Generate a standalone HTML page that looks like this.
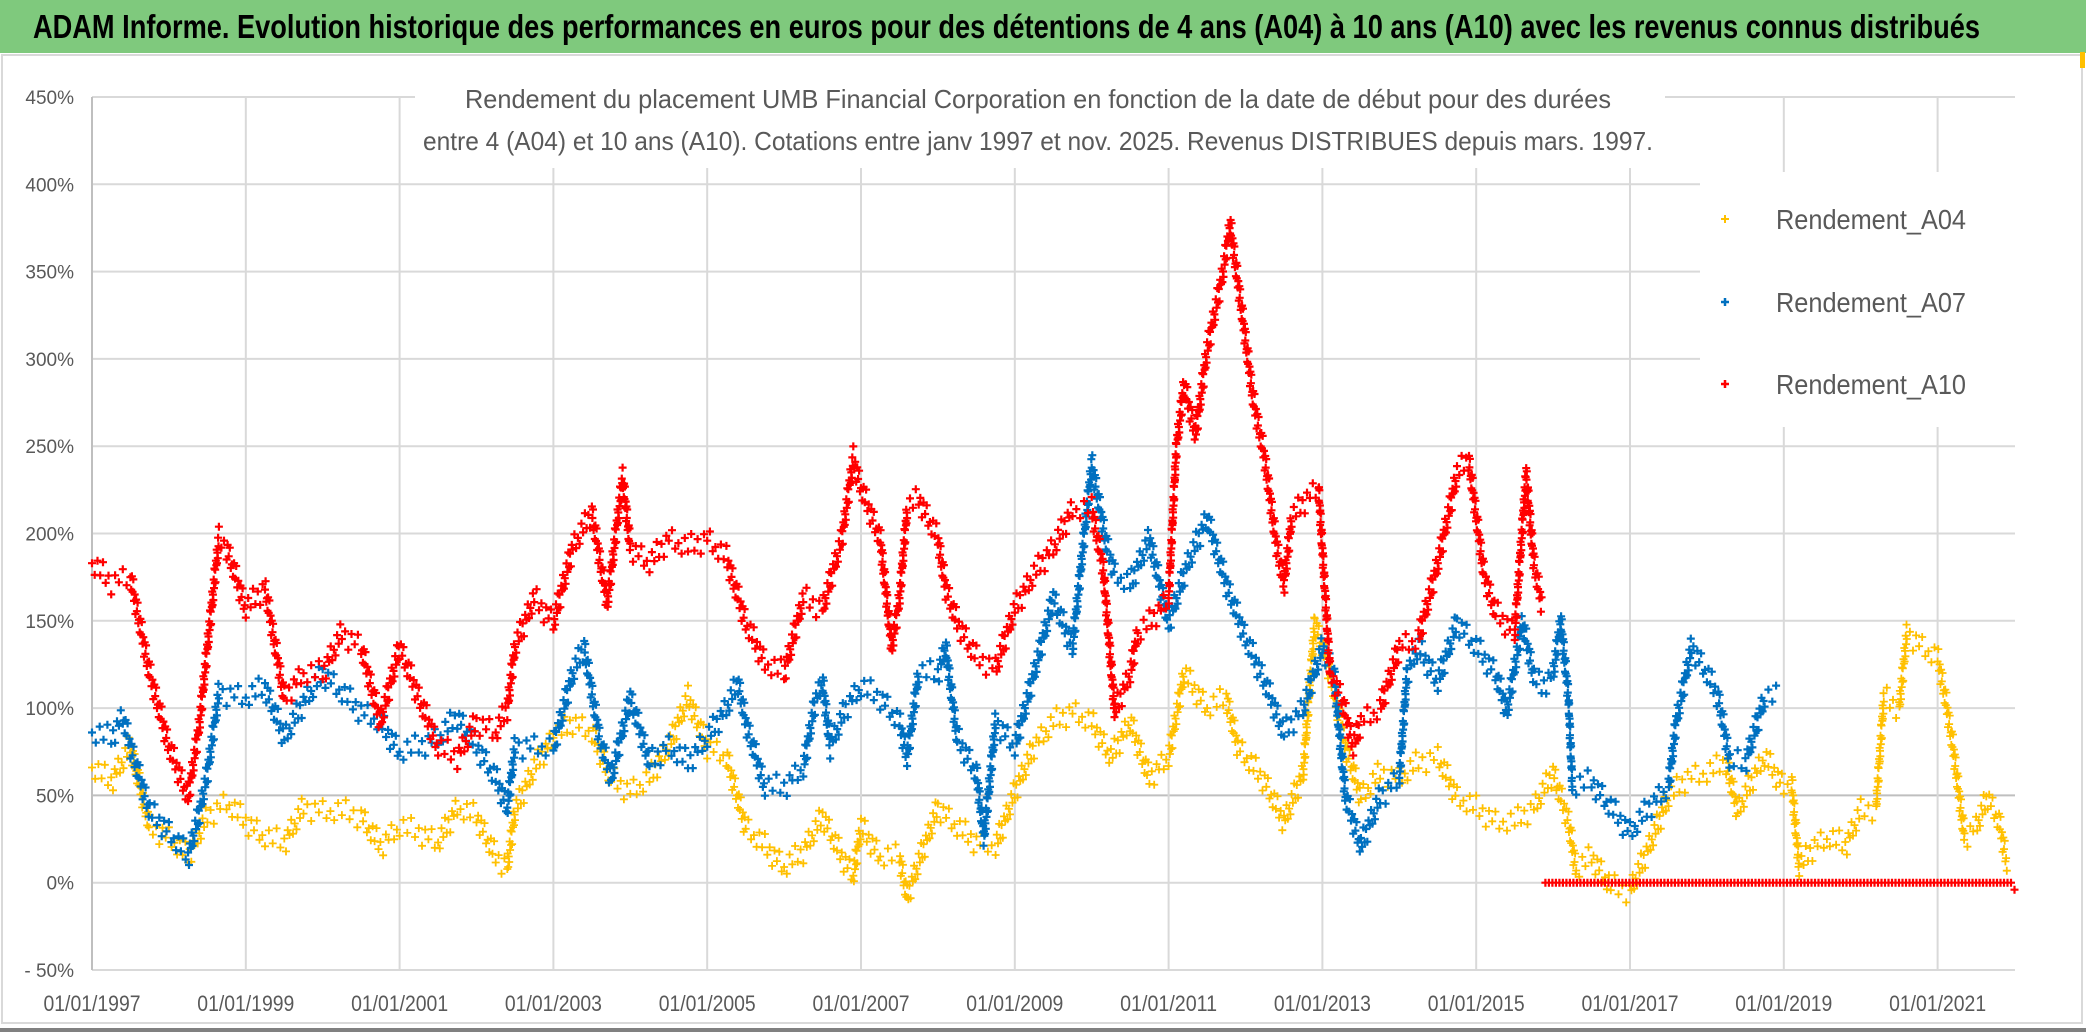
<!DOCTYPE html>
<html><head><meta charset="utf-8">
<style>
html,body{margin:0;padding:0;background:#fff;}
svg{display:block;}
text{font-family:"Liberation Sans Narrow","Liberation Sans",sans-serif;}
</style></head>
<body>
<svg id="chart" width="2086" height="1032" viewBox="0 0 2086 1032">
  <rect x="0" y="0" width="2086" height="1032" fill="#ffffff"/>
  <rect x="0" y="0" width="2086" height="53" fill="#7fc97d"/>
  <text x="33" y="38" font-size="33" font-weight="bold" fill="#000" textLength="1947" lengthAdjust="spacingAndGlyphs">ADAM Informe. Evolution historique des performances en euros pour des détentions de 4 ans (A04) à 10 ans (A10) avec les revenus connus distribués</text>
  <rect x="2" y="55" width="2080" height="968" fill="none" stroke="#d9d9d9" stroke-width="2"/>
  <rect x="2080" y="52" width="5" height="16" fill="#ffc000"/>
  <rect x="0" y="1028" width="2086" height="4" fill="#808080"/>
  <g id="grid"></g>
  <g id="yaxis"></g>
  <g id="xaxis"></g>
  <g id="marks"></g>
  <rect x="415" y="78" width="1250" height="90" fill="#fff"/>
  <text x="1038" y="108" font-size="26" fill="#595959" text-anchor="middle" textLength="1146" lengthAdjust="spacingAndGlyphs">Rendement du placement UMB Financial Corporation en fonction de la date de début pour des durées</text>
  <text x="1038" y="150" font-size="26" fill="#595959" text-anchor="middle" textLength="1230" lengthAdjust="spacingAndGlyphs">entre 4 (A04) et 10 ans (A10). Cotations entre janv 1997 et nov. 2025. Revenus DISTRIBUES depuis mars. 1997.</text>
  <g>
    <rect x="1700" y="172" width="318" height="255" fill="#fff"/>
    <g>
      <path d="M1721 219h8M1725 215v8" stroke="#ffc000" stroke-width="2"/>
      <text x="1776" y="229" font-size="28" fill="#595959" textLength="190" lengthAdjust="spacingAndGlyphs">Rendement_A04</text>
    </g>
    <g>
      <path d="M1721 302h8M1725 298v8" stroke="#0070c0" stroke-width="2.5"/>
      <text x="1776" y="312" font-size="28" fill="#595959" textLength="190" lengthAdjust="spacingAndGlyphs">Rendement_A07</text>
    </g>
    <g>
      <path d="M1721 384h8M1725 380v8" stroke="#ff0000" stroke-width="2.5"/>
      <text x="1776" y="394" font-size="28" fill="#595959" textLength="190" lengthAdjust="spacingAndGlyphs">Rendement_A10</text>
    </g>
  </g>
</svg>
<script>
const yTicks = [-50,0,50,100,150,200,250,300,350,400,450];
const yTickLabels = ["- 50%","0%","50%","100%","150%","200%","250%","300%","350%","400%","450%"];
const xTicks = [1997,1999,2001,2003,2005,2007,2009,2011,2013,2015,2017,2019,2021];
const xTickLabels = ["01/01/1997","01/01/1999","01/01/2001","01/01/2003","01/01/2005","01/01/2007","01/01/2009","01/01/2011","01/01/2013","01/01/2015","01/01/2017","01/01/2019","01/01/2021"];

const a04Dates = [1997.0,1997.25,1997.5,1997.75,1998.0,1998.25,1998.5,1998.75,1999.0,1999.25,1999.5,1999.75,2000.0,2000.25,2000.5,2000.75,2001.0,2001.25,2001.5,2001.75,2002.0,2002.25,2002.4,2002.5,2002.75,2003.0,2003.25,2003.5,2003.75,2004.0,2004.25,2004.5,2004.75,2005.0,2005.25,2005.5,2005.75,2006.0,2006.25,2006.5,2006.75,2006.9,2007.0,2007.25,2007.5,2007.6,2007.75,2008.0,2008.25,2008.5,2008.75,2009.0,2009.25,2009.5,2009.75,2010.0,2010.25,2010.5,2010.75,2011.0,2011.2,2011.5,2011.75,2011.9,2012.25,2012.5,2012.75,2012.9,2013.1,2013.3,2013.5,2013.75,2014.0,2014.25,2014.5,2014.75,2015.0,2015.25,2015.5,2015.75,2016.0,2016.2,2016.3,2016.5,2016.75,2017.0,2017.25,2017.5,2017.75,2018.0,2018.25,2018.4,2018.6,2018.75,2019.0,2019.1,2019.2,2019.4,2019.6,2019.8,2020.0,2020.2,2020.3,2020.5,2020.6,2020.8,2021.0,2021.1,2021.2,2021.35,2021.5,2021.65,2021.8,2021.9];
const a04Values = [66,58,78,32,26,15,38,46,35,26,23,43,41,41,38,21,32,29,23,43,38,15,9,41,66,83,92,86,60,52,60,78,106,78,72,32,21,9,18,38,15,4,32,15,15,-8,12,43,32,23,21,52,78,92,98,92,72,92,60,72,120,100,106,78,58,35,63,149,120,78,49,63,60,69,72,49,43,35,35,43,63,35,7,15,-2,-5,21,49,60,63,69,41,60,72,55,58,9,21,26,21,41,43,106,100,143,135,129,106,78,26,32,49,35,12];

const a07Dates = [1997.0,1997.25,1997.4,1997.5,1997.75,1998.0,1998.25,1998.4,1998.5,1998.65,1999.0,1999.25,1999.5,1999.75,2000.0,2000.25,2000.5,2000.75,2001.0,2001.25,2001.5,2001.75,2002.0,2002.25,2002.4,2002.5,2002.75,2003.0,2003.25,2003.4,2003.6,2003.75,2004.0,2004.25,2004.5,2004.75,2005.0,2005.25,2005.4,2005.5,2005.75,2006.0,2006.25,2006.4,2006.5,2006.6,2006.8,2007.0,2007.25,2007.5,2007.6,2007.75,2008.0,2008.1,2008.25,2008.5,2008.6,2008.75,2009.0,2009.25,2009.5,2009.75,2010.0,2010.2,2010.3,2010.5,2010.75,2011.0,2011.25,2011.5,2011.75,2012.0,2012.25,2012.5,2012.75,2013.0,2013.15,2013.3,2013.5,2013.75,2014.0,2014.1,2014.25,2014.5,2014.75,2015.0,2015.25,2015.4,2015.6,2015.75,2015.85,2016.0,2016.1,2016.2,2016.25,2016.5,2016.75,2017.0,2017.25,2017.5,2017.6,2017.8,2018.0,2018.15,2018.3,2018.5,2018.75,2018.9];
const a07Values = [86,83,95,78,41,29,15,41,63,109,106,112,83,103,120,109,98,92,75,78,83,95,78,60,43,78,78,78,120,135,83,60,106,69,78,69,83,100,115,92,55,55,66,103,115,78,100,112,106,92,72,120,120,135,83,63,26,92,78,120,163,135,240,192,177,171,197,149,183,209,171,140,115,86,100,135,120,49,21,49,60,120,135,115,149,135,120,98,149,118,112,120,150,106,55,58,43,29,43,55,92,135,120,106,69,69,106,106];

const a10Dates = [1997.0,1997.25,1997.5,1997.75,1998.0,1998.25,1998.4,1998.5,1998.65,1998.75,1999.0,1999.25,1999.5,1999.75,2000.0,2000.25,2000.5,2000.75,2001.0,2001.25,2001.5,2001.75,2002.0,2002.25,2002.4,2002.5,2002.75,2003.0,2003.25,2003.5,2003.7,2003.9,2004.0,2004.25,2004.5,2004.75,2005.0,2005.25,2005.5,2005.75,2006.0,2006.25,2006.5,2006.75,2006.9,2007.0,2007.25,2007.4,2007.5,2007.6,2007.75,2008.0,2008.1,2008.25,2008.5,2008.75,2009.0,2009.25,2009.5,2009.75,2010.0,2010.15,2010.3,2010.5,2010.6,2010.75,2010.9,2011.0,2011.1,2011.2,2011.35,2011.5,2011.7,2011.8,2011.95,2012.1,2012.25,2012.4,2012.5,2012.6,2012.8,2012.95,2013.1,2013.25,2013.4,2013.5,2013.75,2014.0,2014.25,2014.5,2014.75,2014.9,2015.1,2015.25,2015.5,2015.65,2015.75,2015.85,null,2015.9,2022.0];
const a10Values = [183,172,175,120,78,49,92,135,197,192,157,169,106,120,120,143,135,92,135,106,78,72,92,86,100,135,163,149,192,212,160,232,192,183,197,192,197,186,149,126,120,163,157,197,243,226,197,135,163,214,220,197,169,149,129,123,157,177,192,214,214,180,98,120,143,149,157,163,249,285,257,305,348,377,328,277,243,194,171,209,220,226,120,106,78,92,100,135,140,183,234,243,177,155,143,234,183,160,null,0,0];

const NS = "http://www.w3.org/2000/svg";
const X0 = 92, PXYR = 76.9;
const Y0 = 882.7, PXPCT = 87.3/50;
function xs(d){ return X0 + (d - 1997) * PXYR; }
function ys(v){ return Y0 - v * PXPCT; }
const PLOT_L = 92, PLOT_R = 2015, PLOT_T = ys(450), PLOT_B = ys(-50);

const grid = document.getElementById('grid');
yTicks.forEach(function(t, i){
  const l = document.createElementNS(NS, 'line');
  l.setAttribute('x1', PLOT_L); l.setAttribute('x2', PLOT_R);
  l.setAttribute('y1', ys(t)); l.setAttribute('y2', ys(t));
  l.setAttribute('stroke', t === 50 ? '#bfbfbf' : '#d9d9d9');
  l.setAttribute('stroke-width', '2');
  
  
  grid.appendChild(l);
});
xTicks.forEach(function(t){
  const l = document.createElementNS(NS, 'line');
  l.setAttribute('x1', xs(t)); l.setAttribute('x2', xs(t));
  l.setAttribute('y1', PLOT_T); l.setAttribute('y2', PLOT_B);
  l.setAttribute('stroke', t === 1997 ? '#bfbfbf' : '#d9d9d9');
  l.setAttribute('stroke-width', '2');
  
  
  grid.appendChild(l);
});
const yaxis = document.getElementById('yaxis');
yTicks.forEach(function(t, i){
  const tx = document.createElementNS(NS, 'text');
  tx.setAttribute('x', 74); tx.setAttribute('y', ys(t) + 7);
  tx.setAttribute('text-anchor', 'end');
  tx.setAttribute('font-size', '19');
  tx.setAttribute('fill', '#595959');
  tx.textContent = yTickLabels[i];
  
  
  yaxis.appendChild(tx);
});
const xaxis = document.getElementById('xaxis');
xTicks.forEach(function(t, i){
  const tx = document.createElementNS(NS, 'text');
  tx.setAttribute('x', xs(t)); tx.setAttribute('y', 1011);
  tx.setAttribute('text-anchor', 'middle');
  tx.setAttribute('font-size', '22');
  tx.setAttribute('fill', '#595959');
  tx.setAttribute('textLength', '97');
  tx.setAttribute('lengthAdjust', 'spacingAndGlyphs');
  tx.textContent = xTickLabels[i];
  
  
  xaxis.appendChild(tx);
});

const marks = document.getElementById('marks');
const SPREAD = [0,9,-8,4,-12,6,-4,12,-6,2,-10,7];
function drawSeries(dates, values, color, name, sw){
  const g = document.createElementNS(NS, 'g');
  
  
  let d = '';
  const S = 4;
  let c = 0;
  function cross(x, y, flat){
    const off = flat ? 0 : SPREAD[c % SPREAD.length];
    c++;
    const yy = y + off;
    d += 'M' + (x-S).toFixed(1) + ' ' + yy.toFixed(1) + 'h' + (2*S) + 'M' + x.toFixed(1) + ' ' + (yy-S).toFixed(1) + 'v' + (2*S);
  }
  for (let i = 0; i < dates.length; i++) {
    if (dates[i] === null) continue;
    const flat = values[i] === 0 && i + 1 < dates.length && values[i+1] === 0;
    const x1 = xs(dates[i]), y1 = ys(values[i]);
    cross(x1, y1, flat);
    if (i + 1 < dates.length && dates[i+1] !== null) {
      const x2 = xs(dates[i+1]), y2 = ys(values[i+1]);
      const len = Math.hypot(x2 - x1, y2 - y1);
      const n = Math.floor(len / 3.5);
      for (let k = 1; k < n; k++) {
        const f = k / n;
        cross(x1 + (x2 - x1) * f, y1 + (y2 - y1) * f, flat);
      }
    }
  }
  const p = document.createElementNS(NS, 'path');
  p.setAttribute('d', d);
  p.setAttribute('stroke', color);
  p.setAttribute('stroke-width', sw);
  p.setAttribute('fill', 'none');
  
  
  g.appendChild(p);
  marks.appendChild(g);
}
drawSeries(a04Dates, a04Values, '#ffc000', 'series-a04', 1.8);
drawSeries(a07Dates, a07Values, '#0070c0', 'series-a07', 2.2);
drawSeries(a10Dates, a10Values, '#ff0000', 'series-a10', 2.2);
</script>
</body></html>
